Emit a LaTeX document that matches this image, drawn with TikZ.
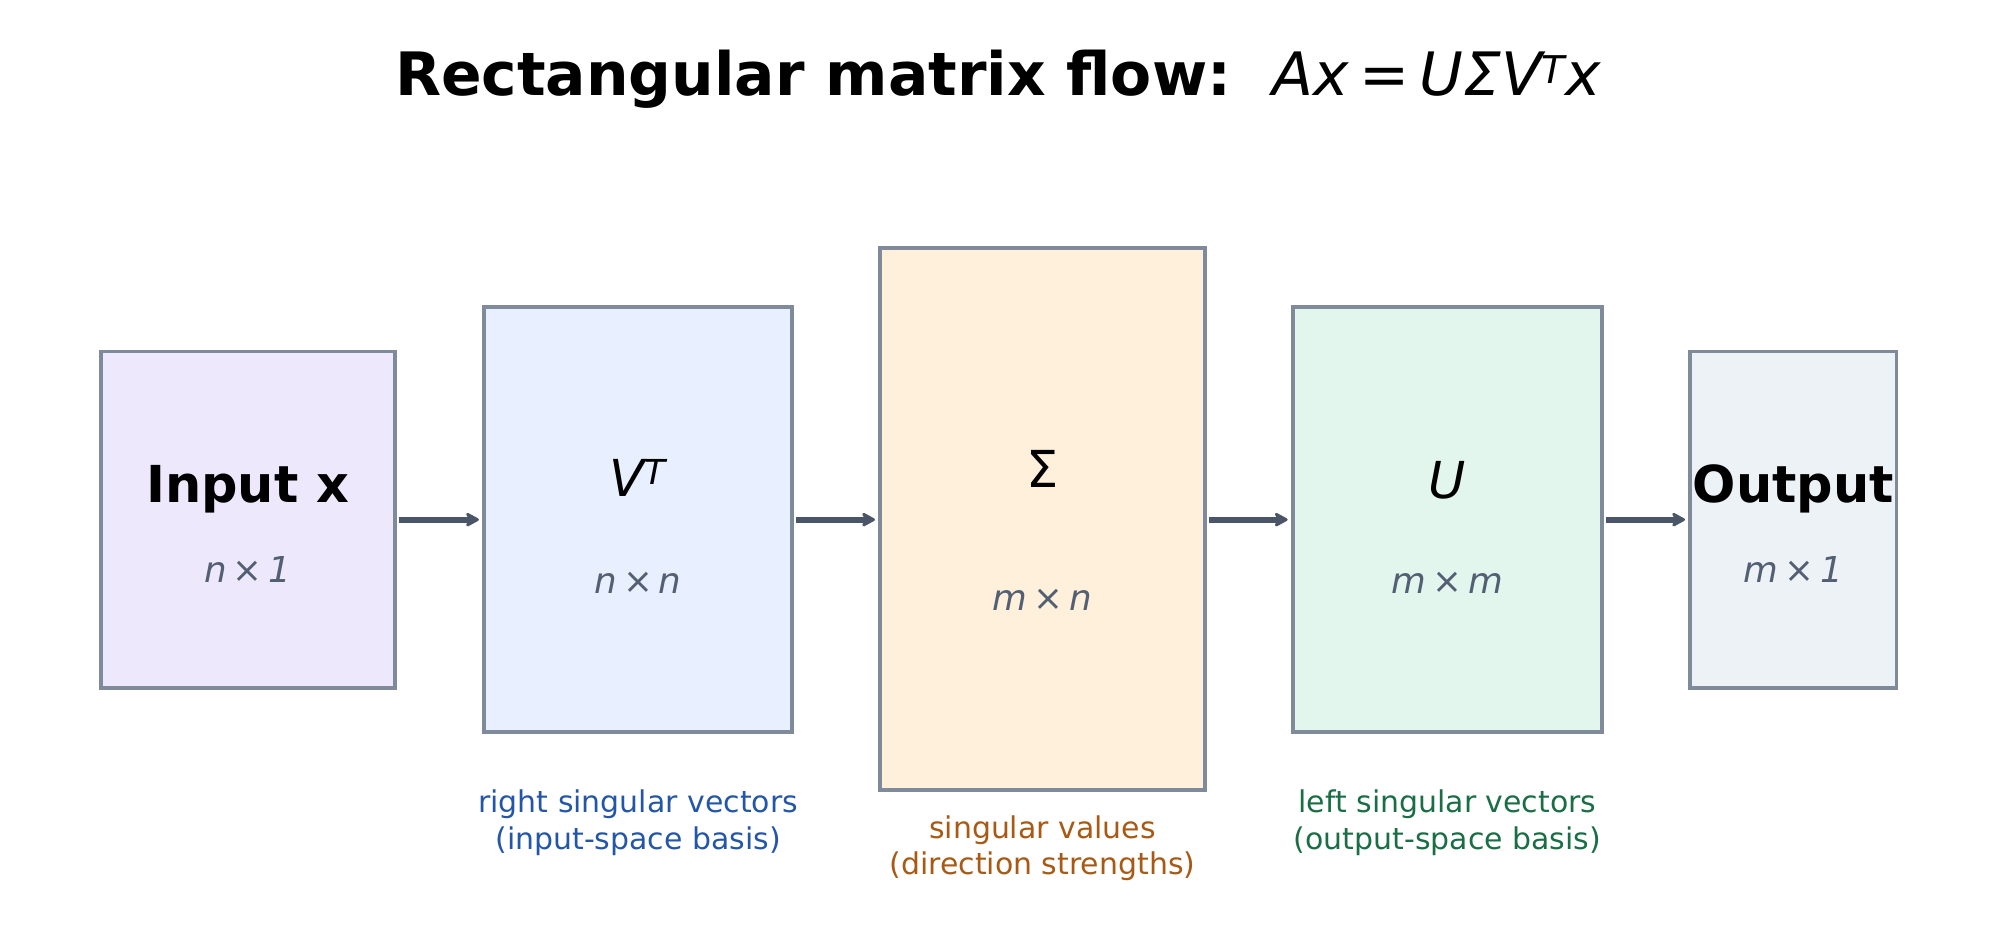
\documentclass[tikz,border=0pt]{standalone}
\usepackage{fontspec}
\setmainfont{DejaVu Sans}
\usetikzlibrary{arrows.meta}
\definecolor{bd}{HTML}{7F8A9A}
\definecolor{ar}{HTML}{4A5568}
\definecolor{sub}{HTML}{535F72}
\definecolor{cA}{HTML}{EEE8FD}
\definecolor{cB}{HTML}{E8EFFE}
\definecolor{cC}{HTML}{FFF0DC}
\definecolor{cD}{HTML}{E3F6EE}
\definecolor{cE}{HTML}{EDF2F7}
\definecolor{tB}{HTML}{2456A8}
\definecolor{tO}{HTML}{A85A14}
\definecolor{tG}{HTML}{1A6E45}
\begin{document}
\begin{tikzpicture}[x=1pt,y=1pt,
  box/.style={draw=bd,line width=3pt},
  arr/.style={draw=ar,line width=4.5pt,-{Stealth[length=13pt,width=14pt,round]}},
  big/.style={font=\fontsize{40}{48}\selectfont},
  subl/.style={text=sub,font=\fontsize{28}{34}\selectfont\itshape},
  note/.style={font=\fontsize{23.5}{29}\selectfont,align=center}]
\useasboundingbox (0,0) rectangle (1568,-740);
\node[font=\fontsize{47}{56}\selectfont\bfseries] (title) at (784,-62) {Rectangular matrix flow:\ \ \textnormal{\itshape Ax\,=\,UΣV$^{\mbox{\fontsize{30}{30}\selectfont\itshape T}}$x}};
\fill[cA] (79,-276) rectangle (310,-540); \draw[box] (79,-276) rectangle coordinate (bA) (310,-540);
\fill[cB] (380,-241) rectangle (622,-575); \draw[box] (380,-241) rectangle coordinate (bB) (622,-575);
\fill[cC] (691,-195) rectangle (946,-620); \draw[box] (691,-195) rectangle coordinate (bC) (946,-620);
\fill[cD] (1015,-241) rectangle (1258,-575); \draw[box] (1015,-241) rectangle coordinate (bD) (1258,-575);
\fill[cE] (1327,-276) rectangle (1489,-540); \draw[box] (1327,-276) rectangle coordinate (bE) (1489,-540);
\node[big,font=\fontsize{40}{48}\selectfont\bfseries] (lA) at (194.5,-384) {Input x};
\node[subl] (sA) at (194.5,-447) {n\,×\,1};
\node[big,font=\fontsize{40}{48}\selectfont\itshape] (lB) at (501,-375) {V$^{\mbox{\fontsize{27}{27}\selectfont\itshape T}}$};
\node[subl] (sB) at (501,-458) {n\,×\,n};
\node[big] (lC) at (818.5,-368) {Σ};
\node[subl] (sC) at (818.5,-471) {m\,×\,n};
\node[big,font=\fontsize{40}{48}\selectfont\itshape] (lD) at (1136.5,-377) {U};
\node[subl] (sD) at (1136.5,-458) {m\,×\,m};
\node[big,font=\fontsize{40}{48}\selectfont\bfseries] (lE) at (1408,-384) {Output};
\node[subl] (sE) at (1408,-447) {m\,×\,1};
\coordinate (a1) at (313,-408); \coordinate (a2) at (376,-408);
\coordinate (b1) at (625,-408); \coordinate (b2) at (687,-408);
\coordinate (c1) at (949,-408); \coordinate (c2) at (1011,-408);
\coordinate (d1) at (1261,-408); \coordinate (d2) at (1323,-408);
\draw[arr] (a1) -- (a2); \draw[arr] (b1) -- (b2);
\draw[arr] (c1) -- (c2); \draw[arr] (d1) -- (d2);
\node[note,text=tB] (nB) at (501,-646) {right singular vectors\\(input-space basis)};
\node[note,text=tO] (nC) at (818.5,-666) {singular values\\(direction strengths)};
\node[note,text=tG] (nD) at (1136.5,-646) {left singular vectors\\(output-space basis)};
\end{tikzpicture}
\end{document}
